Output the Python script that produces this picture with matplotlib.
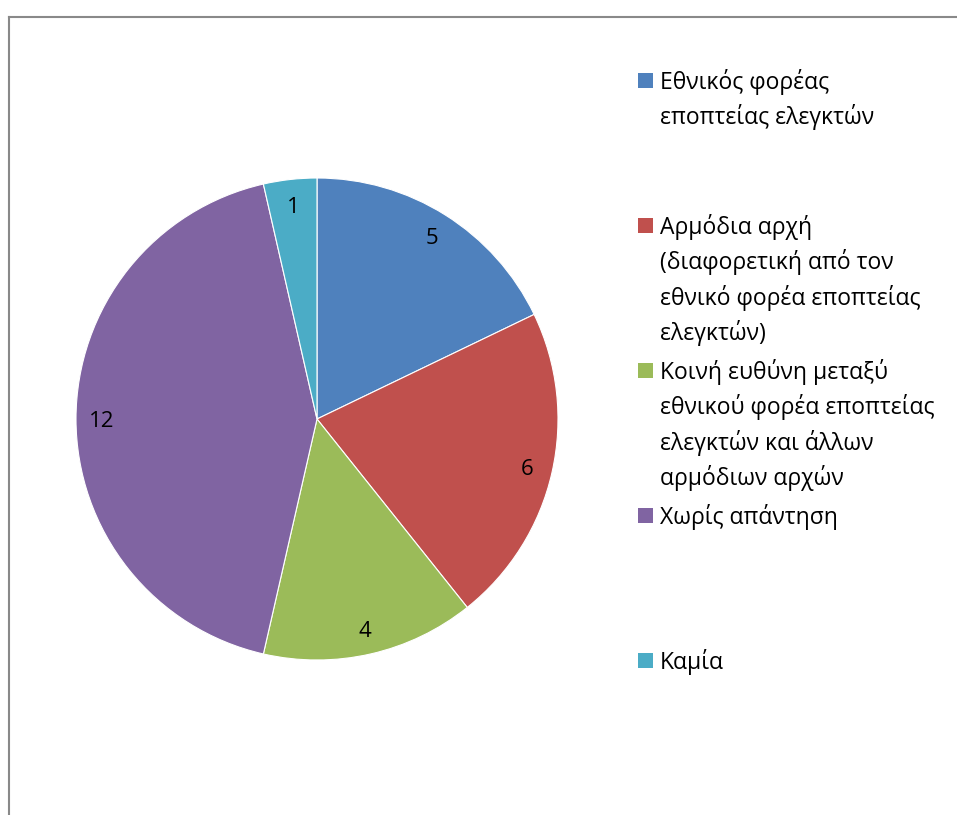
import matplotlib
matplotlib.use('Agg')
import matplotlib.pyplot as plt
from matplotlib.lines import Line2D
from matplotlib.patches import Rectangle

# Data
labels = ['Εθνικός φορέας\nεποπτείας ελεγκτών',
          'Αρμόδια αρχή\n(διαφορετική από τον\nεθνικό φορέα εποπτείας\nελεγκτών)',
          'Κοινή ευθύνη μεταξύ\nεθνικού φορέα εποπτείας\nελεγκτών και άλλων\nαρμόδιων αρχών',
          'Χωρίς απάντηση',
          'Καμία']
values = [5, 6, 4, 12, 1]
colors = ['#4F81BD', '#C0504D', '#9BBB59', '#8064A2', '#4BACC6']

plt.rcParams['font.family'] = ['Open Sans', 'DejaVu Sans']

W, H = 957, 815
fig = plt.figure(figsize=(W / 100, H / 100), dpi=100)

# pie centre and radius in pixels
cx, cy, r = 317, 396, 241
ax = fig.add_axes([(cx - r) / W, (cy - r) / H, 2 * r / W, 2 * r / H])
wedges, texts = ax.pie(values, colors=colors, startangle=90, counterclock=False,
                       labels=[str(v) for v in values], labeldistance=0.895,
                       wedgeprops=dict(edgecolor='white', linewidth=0.8),
                       textprops=dict(fontsize=16, ha='center', va='center_baseline'))
ax.set_xlim(-1, 1)
ax.set_ylim(-1, 1)
ax.set_aspect('equal')
ax.axis('off')

# legend, evenly spaced like Excel
y0 = 80
step = 145
for i, (lab, col) in enumerate(zip(labels, colors)):
    yc = y0 + i * step
    fig.add_artist(Rectangle((638 / W, 1 - (yc + 7.5) / H), 15 / W, 15 / H,
                             transform=fig.transFigure, facecolor=col, edgecolor='none'))
    fig.text(660 / W, 1 - (yc - 11) / H, lab, fontsize=16.5, va='top', ha='left',
             linespacing=1.47)

# chart frame
frame = '#898989'
fig.add_artist(Line2D([8.5 / W, 8.5 / W], [0, 1 - 16.5 / H], color=frame, lw=1.5,
                      transform=fig.transFigure))
fig.add_artist(Line2D([8.5 / W, 1], [1 - 16.5 / H, 1 - 16.5 / H], color=frame, lw=1.5,
                      transform=fig.transFigure))

fig.savefig('out.png', dpi=100)
